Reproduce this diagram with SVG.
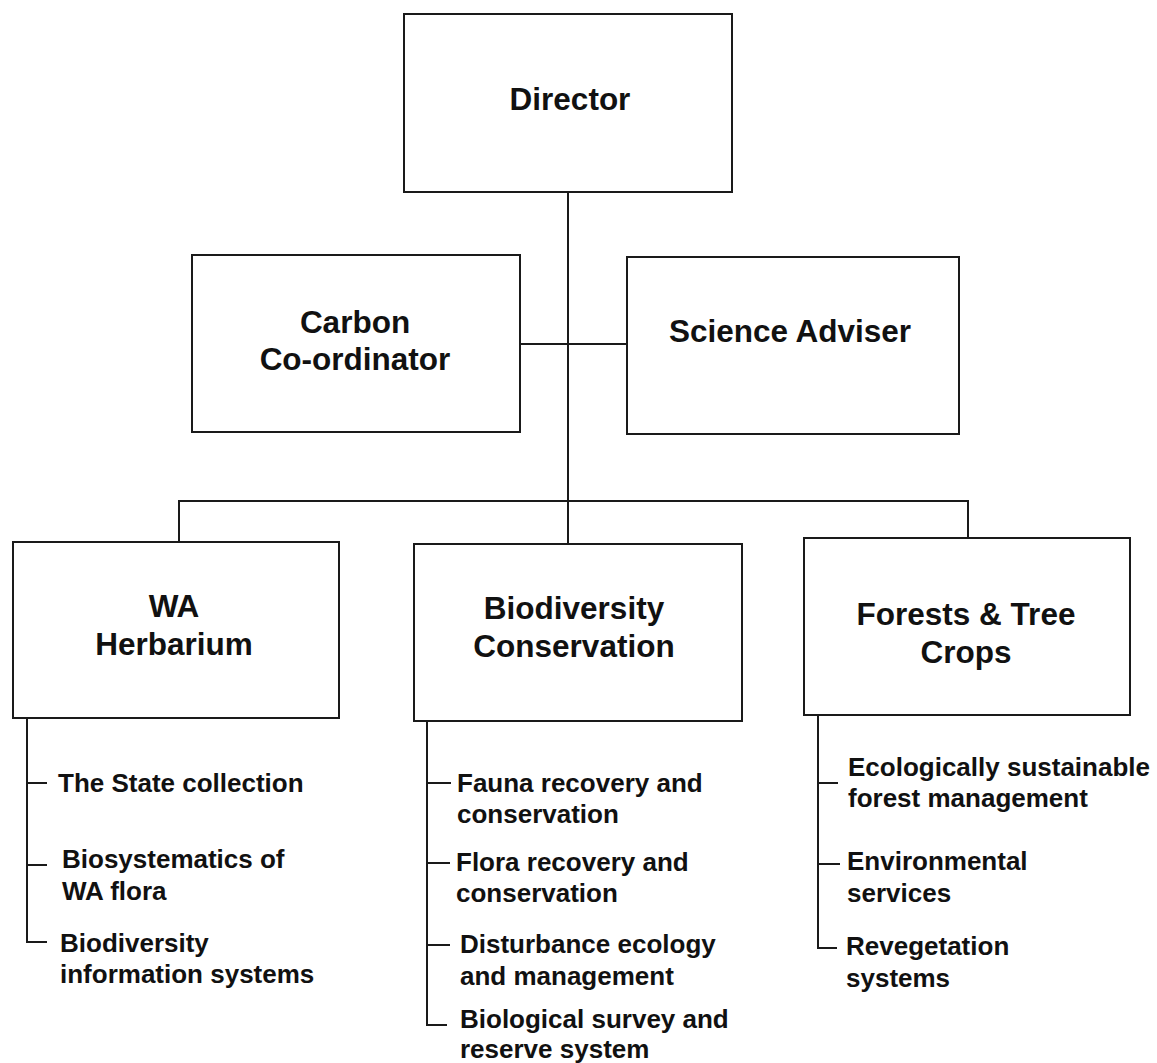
<svg xmlns="http://www.w3.org/2000/svg" width="1157" height="1063" viewBox="0 0 1157 1063">
<style>
.box{fill:#fff;stroke:#1a1a1a;stroke-width:2}
.ln{fill:none;stroke:#1a1a1a;stroke-width:2}
.t{font-family:"Liberation Sans",Arial,sans-serif;font-weight:bold;font-size:31.5px;fill:#111;text-anchor:middle}
.s{font-family:"Liberation Sans",Arial,sans-serif;font-weight:bold;font-size:26px;fill:#111}
</style>
<rect width="1157" height="1063" fill="#fff"/>
<g id="connectors">
<path class="ln" d="M568 192V544"/>
<path class="ln" d="M520 344H627"/>
<path class="ln" d="M179 542V501H968V538"/>
<path class="ln" d="M27 718V942H47M27 783H47M27 865H47"/>
<path class="ln" d="M427 721V1025H447M427 783H451M427 863H450M427 945H450"/>
<path class="ln" d="M818 715V948H837M818 783H838M818 864H840"/>
</g>
<g id="director"><rect class="box" x="404" y="14" width="328" height="178"/><text class="t" x="570" y="110">Director</text></g>
<g id="carbon"><rect class="box" x="192" y="255" width="328" height="177"/><text class="t" x="355" y="333">Carbon</text><text class="t" x="355" y="370">Co-ordinator</text></g>
<g id="science"><rect class="box" x="627" y="257" width="332" height="177"/><text class="t" x="790" y="342">Science Adviser</text></g>
<g id="wa"><rect class="box" x="13" y="542" width="326" height="176"/><text class="t" x="174" y="617">WA</text><text class="t" x="174" y="655">Herbarium</text></g>
<g id="biodiversity"><rect class="box" x="414" y="544" width="328" height="177"/><text class="t" x="574" y="619">Biodiversity</text><text class="t" x="574" y="657">Conservation</text></g>
<g id="forests"><rect class="box" x="804" y="538" width="326" height="177"/><text class="t" x="966" y="625">Forests &amp; Tree</text><text class="t" x="966" y="663">Crops</text></g>
<g id="wa-list">
<text class="s" x="58" y="792">The State collection</text>
<text class="s" x="62" y="868">Biosystematics of</text><text class="s" x="62" y="900">WA flora</text>
<text class="s" x="60" y="952">Biodiversity</text><text class="s" x="60" y="983">information systems</text>
</g>
<g id="bio-list">
<text class="s" x="457" y="792">Fauna recovery and</text><text class="s" x="457" y="823">conservation</text>
<text class="s" x="456" y="871">Flora recovery and</text><text class="s" x="456" y="902">conservation</text>
<text class="s" x="460" y="953">Disturbance ecology</text><text class="s" x="460" y="985">and management</text>
<text class="s" x="460" y="1028">Biological survey and</text><text class="s" x="460" y="1058">reserve system</text>
</g>
<g id="forest-list">
<text class="s" x="848" y="776">Ecologically sustainable</text><text class="s" x="848" y="807">forest management</text>
<text class="s" x="847" y="870">Environmental</text><text class="s" x="847" y="902">services</text>
<text class="s" x="846" y="955">Revegetation</text><text class="s" x="846" y="987">systems</text>
</g>
</svg>
